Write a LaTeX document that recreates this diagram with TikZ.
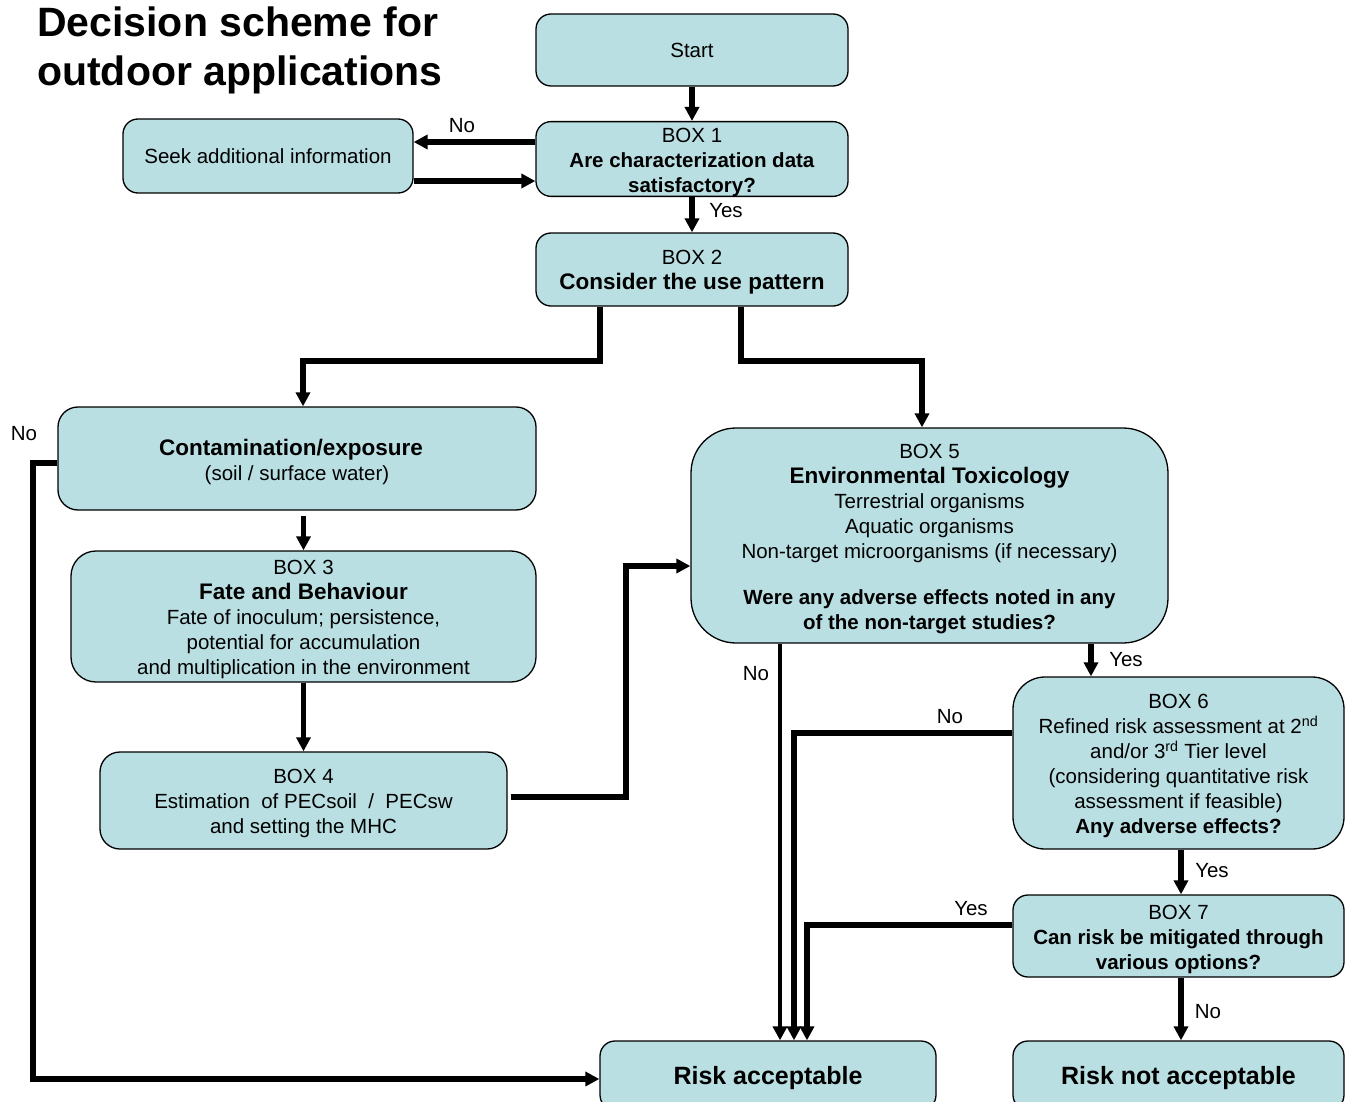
\documentclass[tikz,border=0pt]{standalone}
\usepackage{fontspec}
\setmainfont{Liberation Sans}
\usetikzlibrary{arrows.meta,calc}
\definecolor{boxfill}{RGB}{185,223,227}
\newcommand{\hdr}[1]{{\fontsize{22.5}{26}\selectfont\bfseries #1}}
\newcommand{\tf}{\rule{0pt}{20.5pt}}
\begin{document}
\begin{tikzpicture}[x=1pt,y=-1pt,
  every node/.style={font=\fontsize{20.5}{25}\selectfont},
  box/.style={draw=black, fill=boxfill, line width=1.3pt, align=center, inner sep=0pt, rounded corners=15pt},
  arr/.style={line width=5.3pt, -{Triangle[length=14pt,width=14pt]}},
  lbl/.style={inner sep=0pt}]
\useasboundingbox (0,0) rectangle (1345,1102);

% title
\node[anchor=west, align=left, inner sep=0pt, font=\fontsize{41}{49}\selectfont\bfseries] (title) at (37,50) {Decision scheme for\\outdoor applications};

% boxes
\node[box, minimum width=312pt, minimum height=72pt] (start) at (692,50) {Start};
\node[box, minimum width=312pt, minimum height=74pt] (box1) at (692,159) {\tf BOX 1\\\textbf{Are characterization data}\\\textbf{satisfactory?}};
\node[box, minimum width=290pt, minimum height=74pt] (seek) at (268,156) {Seek additional information};
\node[box, minimum width=312pt, minimum height=73pt] (box2) at (692,269.5) {\tf BOX 2\\\hdr{Consider the use pattern}};
\node[box, rounded corners=20pt, minimum width=478pt, minimum height=103pt] (cont) at (297,458.5) {\rule{0pt}{23.5pt}\hdr{Contamination/exposure}\kern12pt\rule{0pt}{1pt}\\(soil / surface water)};
\node[box, rounded corners=25pt, minimum width=465pt, minimum height=131pt] (box3) at (303.5,616.5) {\tf BOX 3\\\hdr{Fate and Behaviour}\\Fate of inoculum; persistence,\\potential for accumulation\\and multiplication in the environment};
\node[box, rounded corners=20pt, minimum width=407pt, minimum height=97pt] (box4) at (303.5,800.5) {\tf BOX 4\\Estimation\ \ of PECsoil\ \ /\ \ PECsw\\and setting the MHC};
\node[box, rounded corners=45pt, minimum width=477pt, minimum height=215pt] (box5) at (929.5,535.5) {\tf BOX 5\\\hdr{Environmental Toxicology}\\Terrestrial organisms\\Aquatic organisms\\Non-target microorganisms (if necessary)\\[21pt]\textbf{Were any adverse effects noted in any}\\\textbf{of the non-target studies?}};
\node[box, rounded corners=32pt, minimum width=331pt, minimum height=172pt] (box6) at (1178.5,763) {\tf BOX 6\\Refined risk assessment at 2\textsuperscript{nd}\\and/or 3\textsuperscript{rd} Tier level\\(considering quantitative risk\\assessment if feasible)\\\textbf{Any adverse effects?}};
\node[box, minimum width=331pt, minimum height=82pt] (box7) at (1178.5,936) {\tf BOX 7\\\textbf{Can risk be mitigated through}\\\textbf{various options?}};
\node[box, minimum width=336pt, minimum height=69pt] (ok) at (768,1075.5) {\fontsize{25}{30}\selectfont\bfseries\rule{0pt}{24pt}Risk acceptable};
\node[box, minimum width=331pt, minimum height=69pt] (notok) at (1178.5,1075.5) {\fontsize{25}{30}\selectfont\bfseries\rule{0pt}{24pt}Risk not acceptable};

% helper coordinates
\coordinate (y142) at (0,142);
\coordinate (y181) at (0,181);
\coordinate (c1) at (600,361);
\coordinate (c2) at (303,361);
\coordinate (c3) at (741,361);
\coordinate (c4) at (922,361);
\coordinate (c5) at (626,566);
\coordinate (c5b) at (626,797);
\coordinate (c6) at (33,463);
\coordinate (c7) at (33,1079);
\coordinate (x780) at (780,0);
\coordinate (x1091) at (1091,0);
\coordinate (c8) at (794,733);
\coordinate (c9) at (807,925);
\coordinate (x1181) at (1181,0);

% connectors
\draw[arr] (start.south) -- (box1.north);
\draw[arr] (box1.south) -- (box2.north);
\draw[arr] (box1.west |- y142) -- (seek.east |- y142);
\draw[arr] (seek.east |- y181) -- (box1.west |- y181);
\draw[arr] (box2.south -| c1) -- (c1) -- (c2) -- (c2 |- cont.north);
\draw[arr] (box2.south -| c3) -- (c3) -- (c4) -- (c4 |- box5.north);
\draw[arr] ([yshift=-5pt]box3.north |- cont.south) -- (box3.north);
\draw[arr] (box3.south) -- (box4.north);
\draw[arr] ([xshift=3pt]box4.east |- c5b) -- (c5b) -- (c5) -- (box5.west |- c5);
\draw[arr] (cont.west |- c6) -- (c6) -- (c7) -- (ok.west |- c7);
\draw[arr, line width=4pt] (box5.south -| x780) -- (ok.north -| x780);
\draw[arr] (box5.south -| x1091) -- (box6.north -| x1091);
\draw[arr] (box6.west |- c8) -- (c8) -- (ok.north -| c8);
\draw[arr] (box6.south -| x1181) -- (box7.north -| x1181);
\draw[arr] (box7.west |- c9) -- (c9) -- (ok.north -| c9);
\draw[arr] (box7.south -| x1181) -- (notok.north -| x1181);

% labels
\node[lbl] (l1) at (462,126) {No};
\node[lbl] (l2) at (726,211) {Yes};
\node[lbl] (l3) at (24,434) {No};
\node[lbl] (l4) at (756,674) {No};
\node[lbl] (l5) at (1126,660) {Yes};
\node[lbl] (l6) at (950,717) {No};
\node[lbl] (l7) at (1212,871) {Yes};
\node[lbl] (l8) at (971,909) {Yes};
\node[lbl] (l9) at (1208,1012) {No};
\end{tikzpicture}
\end{document}
